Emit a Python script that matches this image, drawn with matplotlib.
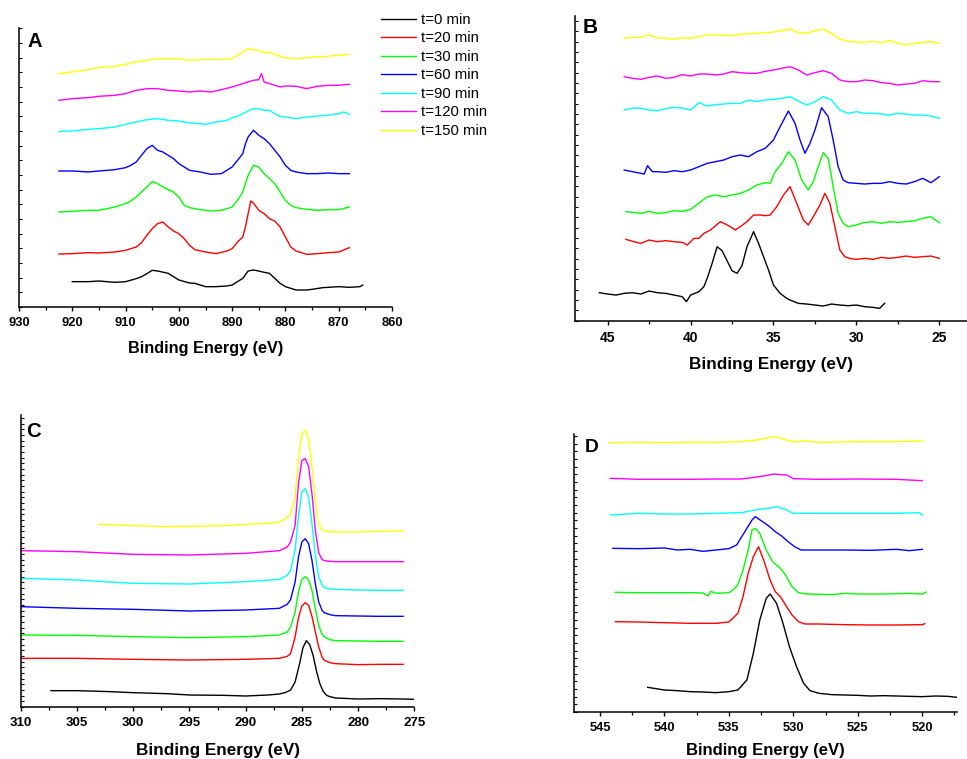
import matplotlib
matplotlib.use("Agg")
import matplotlib.pyplot as plt
from matplotlib.ticker import MultipleLocator, NullFormatter

plt.rcParams['font.family'] = ['Liberation Sans', 'DejaVu Sans']

labels = ["t=0 min", "t=20 min", "t=30 min", "t=60 min", "t=90 min", "t=120 min", "t=150 min"]
colors = ["#000000", "#ff0000", "#00ff00", "#0000ff", "#00ffff", "#ff00ff", "#ffff00"]

# ---------------- Panel A (intensity, arbitrary units) ----------------
a_e_t0 = [920, 917, 915, 912, 910, 908, 907, 906, 905, 904, 902, 900, 898, 897, 895, 893, 891, 890, 889, 888, 887, 886, 885, 884, 883, 882, 881, 880, 878, 876, 875, 873, 870, 868, 866, 865.5]
a_i_t0 = [76, 76, 78, 74, 76, 85, 91, 100, 110, 108, 101, 81, 72, 71, 61, 61, 63, 66, 76, 86, 108, 111, 108, 104, 101, 86, 71, 61, 51, 51, 53, 58, 61, 59, 61, 66]
a_e_t20 = [922.5, 920, 917, 915, 912, 910, 908, 907, 906, 905, 904, 903, 902, 901, 900, 899, 898, 897, 895, 893, 891, 890, 889, 888, 887.5, 887, 886.5, 886, 885, 884, 883, 882, 881, 880, 879, 878, 876, 874, 872, 870, 868]
a_i_t20 = [159, 160, 163, 162, 165, 170, 180, 193, 215, 235, 250, 255, 240, 228, 220, 205, 185, 172, 165, 160, 168, 175, 195, 210, 240, 280, 318, 312, 290, 280, 265, 258, 240, 210, 180, 168, 158, 160, 163, 165, 178]
a_e_t30 = [922.5, 920, 917, 915, 912, 910, 909, 908, 907, 906, 905, 904, 903, 902, 901, 900, 899, 898, 896, 894, 892, 890, 889, 888, 887.5, 887, 886, 885, 884, 883, 882, 881, 880, 879, 878, 876, 874, 872, 870, 868]
a_i_t30 = [285, 287, 290, 290, 300, 310, 318, 330, 345, 360, 376, 370, 360, 352, 345, 330, 305, 298, 292, 288, 290, 300, 320, 345, 370, 395, 425, 420, 400, 385, 370, 345, 320, 305, 298, 293, 290, 292, 292, 300]
a_e_t60 = [922.5, 920, 917, 915, 912, 910, 909, 908, 907, 906, 905, 904, 903, 902, 901, 900, 899, 898, 896, 894, 892, 890, 889, 888, 887.5, 887, 886, 885, 884, 883, 882, 881, 880, 879, 878, 876, 874, 872, 870, 868]
a_i_t60 = [408, 408, 405, 408, 412, 418, 425, 435, 455, 475, 485, 470, 465, 455, 445, 430, 420, 410, 405, 398, 400, 420, 440, 460, 490, 510, 530, 515, 505, 490, 470, 450, 425, 410, 405, 400, 400, 402, 400, 400]
a_e_t90 = [922.5, 920, 917, 915, 912, 910, 908, 906, 904, 902, 900, 898, 896, 895, 893, 891, 890, 889, 888, 887, 886, 885, 884, 883, 882, 881, 880, 878, 876, 874, 872, 870, 869, 868]
a_i_t90 = [526, 528, 533, 535, 540, 548, 555, 562, 565, 560, 558, 552, 550, 548, 555, 560, 568, 572, 580, 588, 595, 595, 590, 590, 580, 572, 570, 565, 570, 573, 575, 580, 585, 577]
a_e_t120 = [922.5, 920, 917, 915, 912, 910, 908, 906, 904, 902, 900, 898, 896, 894, 892, 890, 889, 888, 887, 886, 885, 884.5, 884, 883, 882, 881, 880, 878, 876, 874, 872, 870, 868]
a_i_t120 = [620, 625, 628, 632, 635, 640, 650, 655, 655, 650, 648, 645, 648, 645, 652, 660, 665, 670, 675, 680, 682, 700, 675, 670, 665, 660, 663, 662, 655, 662, 665, 665, 668]
a_e_t150 = [922.5, 920, 917, 915, 912, 910, 908, 906, 904, 902, 900, 898, 896, 894, 892, 890, 889, 888, 887, 886, 885, 884, 883, 882, 881, 880, 878, 876, 874, 872, 870, 868]
a_i_t150 = [700, 705, 712, 718, 722, 728, 735, 740, 745, 745, 745, 740, 742, 743, 742, 745, 755, 765, 775, 772, 770, 762, 765, 758, 752, 748, 745, 748, 750, 752, 755, 758]

# ---------------- Panel B ----------------
b_e_t0 = [45.5, 45, 44.5, 44, 43.5, 43, 42.5, 42, 41.5, 41, 40.5, 40.25, 40, 39.5, 39.2, 39, 38.7, 38.4, 38.1, 37.8, 37.5, 37.2, 36.9, 36.6, 36.2, 35.9, 35.6, 35.3, 35, 34.6, 34.2, 34, 33.5, 33, 32.5, 32, 31.5, 31, 30.5, 30, 29.5, 29, 28.6, 28.3]
b_i_t0 = [84, 80, 77, 82, 84, 80, 89, 84, 82, 77, 72, 57, 77, 87, 102, 127, 172, 222, 210, 180, 150, 142, 165, 222, 267, 232, 192, 152, 107, 82, 67, 62, 52, 50, 47, 44, 50, 47, 45, 47, 42, 40, 37, 52]
b_e_t20 = [43.9, 43.5, 43, 42.5, 42, 41.5, 41, 40.5, 40.2, 39.8, 39.5, 39.2, 38.8, 38.2, 37.9, 37.6, 37.3, 37, 36.6, 36.2, 35.8, 35.5, 35.2, 34.8, 34.4, 34, 33.6, 33.2, 32.9, 32.6, 32.2, 31.9, 31.6, 31.3, 31, 30.7, 30.4, 30, 29.5, 29, 28.5, 28, 27.5, 27, 26.5, 26, 25.5, 25]
b_i_t20 = [244, 238, 232, 242, 237, 240, 237, 235, 227, 247, 247, 262, 272, 297, 290, 282, 272, 282, 297, 317, 317, 315, 317, 342, 377, 402, 352, 302, 287, 312, 347, 382, 352, 282, 212, 192, 187, 184, 187, 184, 190, 187, 190, 194, 190, 192, 194, 187]
b_e_t30 = [43.9, 43.5, 43, 42.5, 42, 41.5, 41, 40.5, 40, 39.5, 39, 38.5, 38, 37.5, 37, 36.5, 36, 35.5, 35.2, 34.9, 34.5, 34.1, 33.7, 33.3, 32.9, 32.6, 32.3, 32, 31.7, 31.4, 31.1, 30.8, 30.5, 30, 29.5, 29, 28.5, 28, 27.5, 27, 26.5, 26, 25.5, 25]
b_i_t30 = [327, 325, 322, 328, 322, 324, 330, 328, 334, 352, 372, 377, 372, 377, 382, 392, 407, 414, 412, 447, 472, 507, 482, 422, 392, 417, 462, 504, 487, 402, 322, 292, 282, 287, 295, 297, 292, 297, 295, 297, 300, 307, 312, 294]
b_e_t60 = [44, 43.5, 43, 42.8, 42.6, 42.3, 42, 41.5, 41, 40.5, 40, 39.5, 39, 38.5, 38, 37.5, 37, 36.5, 36, 35.5, 35, 34.6, 34.1, 33.7, 33.4, 33.1, 32.8, 32.5, 32.1, 31.7, 31.4, 31.1, 30.8, 30.5, 30, 29.5, 29, 28.5, 28, 27.5, 27, 26.5, 26, 25.5, 25]
b_i_t60 = [452, 447, 442, 440, 465, 447, 447, 445, 450, 447, 452, 462, 472, 477, 482, 492, 497, 492, 507, 517, 542, 582, 629, 592, 542, 502, 532, 572, 639, 612, 542, 462, 422, 414, 412, 410, 412, 412, 417, 412, 410, 417, 427, 414, 432]
b_e_late = [44, 43.5, 43, 42.5, 42, 41.5, 41, 40.5, 40, 39.5, 39, 38.5, 38, 37.5, 37, 36.5, 36, 35.5, 35, 34.5, 34, 33.5, 33, 32.5, 32, 31.5, 31, 30.5, 30, 29.5, 29, 28.5, 28, 27.5, 27, 26.5, 26, 25.5, 25]
b_i_t90 = [632, 638, 637, 632, 630, 636, 640, 638, 632, 654, 644, 648, 650, 652, 652, 662, 657, 662, 664, 667, 672, 659, 647, 657, 672, 662, 632, 622, 627, 622, 622, 620, 617, 622, 620, 617, 617, 614, 607]
b_i_t120 = [732, 727, 724, 730, 734, 727, 730, 738, 734, 740, 740, 737, 740, 747, 744, 742, 742, 748, 752, 757, 762, 752, 737, 744, 750, 742, 722, 717, 717, 722, 720, 714, 712, 707, 710, 712, 720, 717, 717]
b_i_t150 = [847, 850, 850, 858, 848, 848, 844, 848, 847, 852, 857, 857, 857, 854, 860, 860, 862, 864, 866, 870, 874, 865, 862, 870, 874, 862, 845, 838, 836, 835, 838, 834, 840, 832, 828, 832, 835, 837, 832]

# ---------------- Panel C ----------------
c_e_t0 = [307.3, 305, 302, 300, 297, 295, 292, 290, 288, 287, 286.5, 286, 285.6, 285.2, 284.9, 284.6, 284.3, 284, 283.7, 283.4, 283.1, 282.8, 282.5, 282, 280, 278, 276, 275]
c_i_t0 = [49, 49, 46, 43, 40, 36, 35, 33, 36, 39, 43, 51, 75, 130, 178, 199, 187, 155, 108, 70, 47, 35, 31, 27, 24, 25, 24, 23]
c_e_mid = [310, 305, 300, 295, 290, 287, 286.3, 286, 285.6, 285.3, 285, 284.7, 284.4, 284.1, 283.8, 283.5, 283.2, 283, 282.5, 282, 280, 278, 276]
c_i_t20 = [146, 146, 143, 141, 143, 146, 152, 160, 210, 268, 303, 313, 305, 272, 225, 180, 150, 140, 133, 130, 127, 128, 128]
c_i_t30 = [216, 215, 211, 208, 211, 216, 225, 240, 285, 345, 382, 391, 382, 350, 295, 245, 218, 210, 202, 199, 198, 197, 197]
c_i_t60 = [301, 296, 293, 288, 291, 296, 308, 322, 375, 450, 495, 505, 490, 440, 370, 315, 290, 283, 277, 274, 273, 272, 272]
c_i_t90 = [386, 381, 371, 369, 376, 383, 395, 410, 470, 575, 645, 655, 630, 550, 455, 390, 366, 358, 354, 353, 351, 350, 350]
c_i_t120 = [469, 466, 458, 456, 461, 469, 480, 495, 545, 670, 740, 745, 722, 640, 530, 462, 443, 439, 437, 436, 436, 436, 436]
c_e_t150 = [303.1, 300, 297, 295, 292, 290, 288, 287, 286.5, 286, 285.6, 285.3, 285, 284.7, 284.4, 284.1, 283.8, 283.5, 283.2, 283, 282.5, 282, 280, 278, 276]
c_i_t150 = [548, 544, 541, 542, 544, 548, 551, 555, 565, 578, 630, 745, 820, 830, 805, 720, 615, 548, 532, 528, 526, 525, 525, 527, 528]

# ---------------- Panel D ----------------
d_e_t0 = [541.3, 540, 539, 538, 537, 536, 535, 534.3, 533.6, 533.1, 532.6, 532.1, 531.8, 531.3, 530.8, 530.3, 529.75, 529.2, 528.7, 528, 527, 526, 525, 524, 523, 522, 521, 520, 519, 518, 517.3]
d_i_t0 = [74, 66, 64, 61, 60, 58, 61, 66, 96, 176, 276, 341, 354, 326, 266, 196, 136, 86, 64, 56, 52, 51, 50, 48, 49, 48, 47, 46, 48, 47, 44]
d_e_t20 = [543.8, 542, 540, 538, 536, 535, 534.3, 533.9, 533.5, 533.1, 532.7, 532.3, 531.8, 531.4, 531, 530.6, 530.1, 529.6, 529.1, 528, 526, 524, 522, 520, 519.8]
d_i_t20 = [271, 270, 268, 266, 266, 270, 296, 346, 416, 466, 496, 456, 396, 361, 346, 321, 291, 271, 264, 264, 262, 261, 261, 262, 265]
d_e_t30 = [543.8, 542, 540, 538, 537, 536.6, 536.4, 536, 535, 534.7, 534.3, 533.9, 533.5, 533.2, 532.95, 532.6, 532.1, 531.6, 531, 530.6, 530.1, 529.6, 529, 527, 526, 525, 523, 521, 520, 519.7]
d_i_t30 = [359, 358, 358, 358, 357, 348, 362, 356, 358, 366, 381, 426, 486, 546, 551, 536, 486, 451, 431, 411, 376, 358, 354, 352, 356, 354, 354, 356, 354, 360]
d_e_t60 = [544, 542, 540, 539, 538, 537, 536, 535, 534.4, 534, 533.6, 533.2, 532.95, 532.5, 531.9, 531.4, 530.9, 530.4, 529.9, 529.4, 528, 526, 524, 522, 521, 520]
d_i_t60 = [491, 490, 492, 486, 488, 482, 486, 490, 501, 526, 551, 576, 586, 574, 558, 541, 528, 511, 496, 486, 486, 486, 485, 488, 484, 488]
d_e_t90 = [544.2, 542, 540, 538, 536, 534, 533, 532, 531.5, 531.2, 531, 530.5, 530, 528, 525, 522, 520.2, 520]
d_i_t90 = [591, 596, 594, 594, 596, 598, 606, 611, 614, 616, 612, 606, 596, 596, 596, 596, 598, 590]
d_e_t120 = [544.2, 542, 540, 538, 536, 534, 533, 532, 531.5, 531, 530.5, 530, 528, 525, 522, 520]
d_i_t120 = [701, 698, 698, 698, 699, 699, 704, 710, 714, 712, 711, 700, 698, 699, 698, 694]
d_e_t150 = [544.3, 542, 540, 538, 536, 534, 533, 532, 531.5, 531, 530.5, 530, 529, 528, 525, 522, 520]
d_i_t150 = [808, 809, 808, 809, 809, 811, 815, 822, 826, 823, 815, 810, 813, 809, 811, 811, 813]

panel_a = [(a_e_t0, a_i_t0), (a_e_t20, a_i_t20), (a_e_t30, a_i_t30), (a_e_t60, a_i_t60),
           (a_e_t90, a_i_t90), (a_e_t120, a_i_t120), (a_e_t150, a_i_t150)]
panel_b = [(b_e_t0, b_i_t0), (b_e_t20, b_i_t20), (b_e_t30, b_i_t30), (b_e_t60, b_i_t60),
           (b_e_late, b_i_t90), (b_e_late, b_i_t120), (b_e_late, b_i_t150)]
panel_c = [(c_e_t0, c_i_t0), (c_e_mid, c_i_t20), (c_e_mid, c_i_t30), (c_e_mid, c_i_t60),
           (c_e_mid, c_i_t90), (c_e_mid, c_i_t120), (c_e_t150, c_i_t150)]
panel_d = [(d_e_t0, d_i_t0), (d_e_t20, d_i_t20), (d_e_t30, d_i_t30), (d_e_t60, d_i_t60),
           (d_e_t90, d_i_t90), (d_e_t120, d_i_t120), (d_e_t150, d_i_t150)]

W, H = 967, 759
fig = plt.figure(figsize=(W / 100, H / 100), dpi=100)


def make_axes(l, r, t, b):
    return fig.add_axes([l / W, 1 - b / H, (r - l) / W, (b - t) / H])


specs = [
    # curves, letter, px box (l, r, t, b), xlim, ylim, major, minor, ytick step,
    # letter offset px, tick font, label font, letter font, labelpad
    (panel_a, "A", (19, 392, 28.3, 307), (930, 860), (0, 836), 10, 5, 44, (9, 4), 9.3, 11.7, 14.5, 8.5),
    (panel_b, "B", (575, 967, 16, 320.7), (46.97, 23.33), (0, 914), 5, 2.5, 31, (8, 2), 10.0, 12.3, 15, 8.5),
    (panel_c, "C", (20.7, 414.3, 415, 707), (310, 275), (0, 876), 5, 2.5, 17, (5, 7), 9.5, 12.3, 14.7, 10),
    (panel_d, "D", (574.3, 957, 434, 712), (546.99, 517.3), (0, 834), 5, 2.5, 23, (10, 5), 9.3, 12.0, 13.8, 6),
]

axes = []
for curves, letter, box, xlim, ylim, major, minor, ystep, loff, tfs, lfs, pfs, lpad in specs:
    l, r, t, b = box
    ax = make_axes(l, r, t, b)
    axes.append(ax)
    for (e, i), c, lab in zip(curves, colors, labels):
        ax.plot(e, i, color=c, lw=1.0, label=lab)
    ax.set_xlim(*xlim)
    ax.set_ylim(*ylim)
    for s in ("top", "right"):
        ax.spines[s].set_visible(False)
    for s in ("left", "bottom"):
        ax.spines[s].set_linewidth(1.1)
    ax.xaxis.set_major_locator(MultipleLocator(major))
    ax.xaxis.set_minor_locator(MultipleLocator(minor))
    ax.yaxis.set_major_locator(MultipleLocator(ystep))
    ax.yaxis.set_major_formatter(NullFormatter())
    ax.tick_params(axis="x", which="major", direction="out", length=3, width=1.0,
                   labelsize=tfs, pad=4.5)
    ax.tick_params(axis="x", which="minor", direction="out", length=2.5, width=0.9)
    ax.tick_params(axis="y", which="major", direction="in", length=2, width=0.8)
    for lbl in ax.get_xticklabels():
        lbl.set_fontweight("bold")
    ax.set_xlabel("Binding Energy (eV)", fontsize=lfs, fontweight="bold", labelpad=lpad)
    w_px, h_px = r - l, b - t
    ax.text(loff[0] / w_px, 1 - loff[1] / h_px, letter, transform=ax.transAxes,
            fontsize=pfs, fontweight="bold", ha="left", va="top")

handles, labs = axes[0].get_legend_handles_labels()
fig.legend(handles, labs, loc="upper left", bbox_to_anchor=(381 / W, 1 - 13 / H),
           frameon=False, fontsize=10.7, handlelength=2.35, handletextpad=0.33,
           labelspacing=0.3, borderpad=0, borderaxespad=0)

fig.savefig("out.png", dpi=100)
